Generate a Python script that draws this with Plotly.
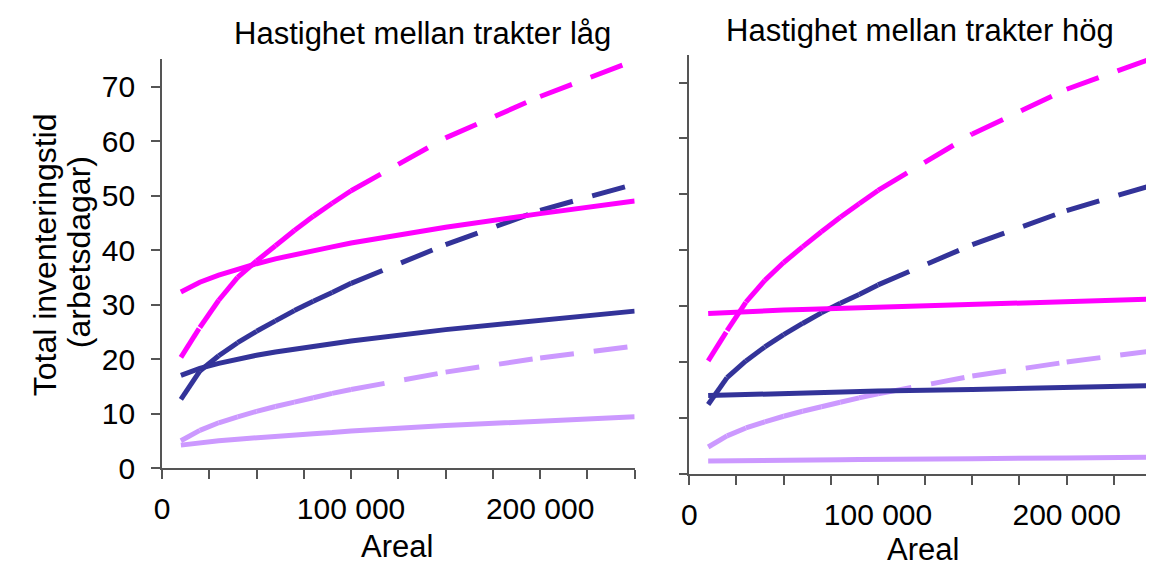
import plotly.graph_objects as go

# ---------------- data ----------------
AREAL = [10000, 20000, 30000, 40000, 50000, 60000, 70000, 80000, 90000,
         100000, 150000, 200000, 250000]

# Left panel: "Hastighet mellan trakter låg"
LOW_MAGENTA_SOLID = [32.3, 34.1, 35.4, 36.5, 37.5, 38.4, 39.2, 39.9, 40.6, 41.3, 44.2, 46.7, 49.0]
LOW_BLUE_SOLID    = [17.0, 18.3, 19.2, 20.0, 20.7, 21.3, 21.8, 22.3, 22.8, 23.3, 25.4, 27.2, 28.8]
LOW_PURPLE_SOLID  = [4.2, 4.7, 5.0, 5.3, 5.6, 5.8, 6.1, 6.3, 6.5, 6.8, 7.8, 8.6, 9.4]
LOW_MAGENTA_DASH  = [20.3, 25.8, 30.8, 35.0, 38.0, 40.8, 43.6, 46.2, 48.6, 50.9, 60.6, 68.2, 74.8]
LOW_BLUE_DASH     = [12.6, 17.8, 20.6, 23.0, 25.1, 27.0, 28.9, 30.6, 32.2, 33.9, 41.0, 47.3, 52.1]
LOW_PURPLE_DASH   = [5.0, 6.9, 8.3, 9.4, 10.4, 11.3, 12.1, 12.9, 13.7, 14.4, 17.6, 20.2, 22.4]

# Right panel: "Hastighet mellan trakter hög"
HIGH_MAGENTA_SOLID = [28.7, 28.9, 29.0, 29.2, 29.3, 29.4, 29.5, 29.6, 29.7, 29.8, 30.3, 30.8, 31.3]
HIGH_BLUE_SOLID    = [14.0, 14.1, 14.2, 14.3, 14.4, 14.5, 14.5, 14.6, 14.7, 14.8, 15.1, 15.5, 15.8]
HIGH_PURPLE_SOLID  = [2.3, 2.3, 2.35, 2.4, 2.4, 2.45, 2.5, 2.5, 2.55, 2.6, 2.7, 2.85, 3.0]
HIGH_MAGENTA_DASH  = [20.2, 25.6, 30.7, 34.6, 37.8, 40.6, 43.3, 45.9, 48.3, 50.7, 60.8, 68.8, 74.9]
HIGH_BLUE_DASH     = [12.4, 17.2, 20.2, 22.7, 24.9, 26.9, 28.8, 30.5, 32.1, 33.8, 41.0, 47.1, 52.1]
HIGH_PURPLE_DASH   = [4.8, 6.8, 8.2, 9.3, 10.3, 11.2, 12.0, 12.8, 13.6, 14.3, 17.5, 20.0, 22.2]

Y_TICKS = [0, 10, 20, 30, 40, 50, 60, 70]
X_TICKS = [0, 25000, 50000, 75000, 100000, 125000, 150000, 175000, 200000, 225000, 250000]
X_TICKTEXT = ["0", "", "", "", "100 000", "", "", "", "200 000", "", ""]

TITLES = ["Hastighet mellan trakter låg", "Hastighet mellan trakter hög"]
X_TITLE = "Areal"
Y_TITLE_LINES = ["Total inventeringstid", "(arbetsdagar)"]

MAGENTA = "#FF00FF"
BLUE = "#333399"
PURPLE = "#CC99FF"

FONT = "Liberation Sans, Arial, sans-serif"
LW = 5
DASH = "34px,20px"

fig = go.Figure()


def add_solid(y, color, xa, ya):
    fig.add_trace(go.Scatter(x=AREAL, y=y, mode="lines", xaxis=xa, yaxis=ya,
                             line=dict(color=color, width=LW), showlegend=False,
                             hoverinfo="skip"))


def add_dashed(y, color, xa, ya):
    # dash pattern restarts at every data point (as in the original)
    for i in range(len(AREAL) - 1):
        fig.add_trace(go.Scatter(x=AREAL[i:i + 2], y=y[i:i + 2], mode="lines",
                                 xaxis=xa, yaxis=ya,
                                 line=dict(color=color, width=LW, dash=DASH),
                                 showlegend=False, hoverinfo="skip"))


for xa, ya, sets in [
    ("x", "y", [(LOW_PURPLE_SOLID, LOW_PURPLE_DASH, PURPLE),
                (LOW_BLUE_SOLID, LOW_BLUE_DASH, BLUE),
                (LOW_MAGENTA_SOLID, LOW_MAGENTA_DASH, MAGENTA)]),
    ("x2", "y2", [(HIGH_PURPLE_SOLID, HIGH_PURPLE_DASH, PURPLE),
                  (HIGH_BLUE_SOLID, HIGH_BLUE_DASH, BLUE),
                  (HIGH_MAGENTA_SOLID, HIGH_MAGENTA_DASH, MAGENTA)]),
]:
    for solid, dashed, color in sets:
        add_dashed(dashed, color, xa, ya)
        add_solid(solid, color, xa, ya)

W, H = 1154, 576
axis_common = dict(showgrid=False, zeroline=False, showline=True, linecolor="#555555",
                   linewidth=1.5, ticks="outside", ticklen=9, tickcolor="#555555",
                   tickwidth=1.5, tickfont=dict(family=FONT, size=30, color="black"))

fig.update_layout(
    width=W, height=H, autosize=False,
    margin=dict(l=0, r=0, t=0, b=0),
    paper_bgcolor="white", plot_bgcolor="white",
    showlegend=False,
    xaxis=dict(domain=[147 / W, 623 / W], range=[0, 250000], tickvals=X_TICKS,
               ticktext=X_TICKTEXT, anchor="y", ticklabelstandoff=4, **axis_common),
    yaxis=dict(domain=[1 - 474 / H, 1 - 53 / H], range=[0, 75], tickvals=Y_TICKS,
               anchor="x", ticklabelstandoff=10, **axis_common),
    xaxis2=dict(domain=[678 / W, 1153 / W], range=[0, 250000], tickvals=X_TICKS,
                ticktext=X_TICKTEXT, anchor="y2", ticklabelstandoff=4, **axis_common),
    yaxis2=dict(domain=[1 - 480 / H, 1 - 48 / H], range=[0, 75], tickvals=Y_TICKS,
                anchor="x2", showticklabels=False, **axis_common),
)

ann_font = dict(family=FONT, size=31, color="black")
ytitle_font = dict(family=FONT, size=32, color="black")
annotations = [
    dict(text=TITLES[0], x=409 / W, y=1 - 26 / H, xref="paper", yref="paper",
         xanchor="center", yanchor="middle", showarrow=False, font=ann_font),
    dict(text=TITLES[1], x=910 / W, y=1 - 23 / H, xref="paper", yref="paper",
         xanchor="center", yanchor="middle", showarrow=False, font=ann_font),
    dict(text=X_TITLE, x=384 / W, y=1 - 555 / H, xref="paper", yref="paper",
         xanchor="center", yanchor="middle", showarrow=False, font=ann_font),
    dict(text=X_TITLE, x=913 / W, y=1 - 558 / H, xref="paper", yref="paper",
         xanchor="center", yanchor="middle", showarrow=False, font=ann_font),
    dict(text=Y_TITLE_LINES[0], x=29 / W, y=1 - 254 / H, xref="paper", yref="paper",
         xanchor="center", yanchor="middle", showarrow=False, textangle=-90,
         font=ytitle_font),
    dict(text=Y_TITLE_LINES[1], x=63 / W, y=1 - 252 / H, xref="paper", yref="paper",
         xanchor="center", yanchor="middle", showarrow=False, textangle=-90,
         font=ytitle_font),
]
fig.update_layout(annotations=annotations)

fig.write_html("out.html")
